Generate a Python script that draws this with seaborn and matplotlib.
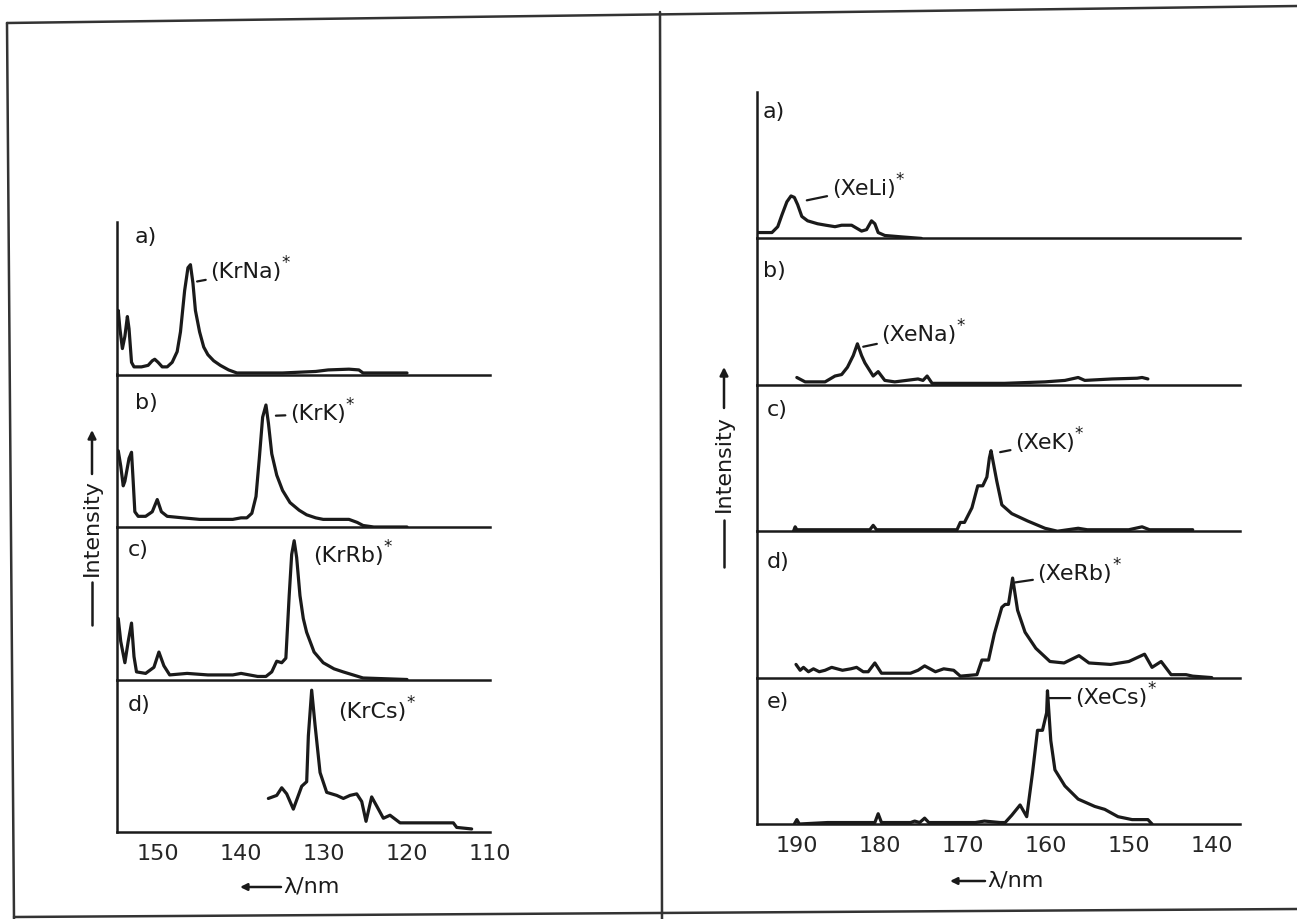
import matplotlib
matplotlib.use("Agg")
import matplotlib.pyplot as plt
import seaborn as sns
from matplotlib.lines import Line2D

sns.set_style("white")
plt.rcParams["font.family"] = ["DejaVu Sans"]

# ---------------- data (wavelength in nm, relative intensity) ----------------
# left panel: Kr excimers
krna_x = [155.0, 154.8, 154.6, 154.3, 154.0, 153.7, 153.5, 153.2, 152.9, 152.0, 151.2, 150.7,
          150.4, 150.0, 149.5, 148.9, 148.3, 147.7, 147.3, 146.8, 146.4, 146.1, 145.8, 145.5,
          145.0, 144.5, 144.0, 143.3, 142.5, 141.5, 140.5, 135.0, 131.0, 129.5, 127.0, 125.8,
          125.3, 122.0, 120.0]
krna_y = [0.36, 0.42, 0.30, 0.17, 0.25, 0.38, 0.30, 0.08, 0.05, 0.05, 0.06, 0.09,
          0.10, 0.08, 0.05, 0.05, 0.08, 0.15, 0.28, 0.55, 0.70, 0.72, 0.60, 0.42,
          0.28, 0.18, 0.13, 0.09, 0.06, 0.03, 0.01, 0.01, 0.02, 0.03, 0.035, 0.03,
          0.01, 0.01, 0.01]

krk_x = [155.0, 154.8, 154.5, 154.2, 154.0, 153.5, 153.2, 153.0, 152.8, 152.4, 151.5, 150.7,
         150.1, 149.6, 148.9, 147.0, 145.0, 143.0, 141.0, 140.0, 139.3, 138.7, 138.2, 137.8,
         137.4, 137.0, 136.7, 136.3, 135.7, 135.0, 134.1, 133.0, 132.1, 131.0, 130.1, 128.5,
         127.0, 126.0, 125.3, 124.0, 120.0]
krk_y = [0.45, 0.50, 0.40, 0.27, 0.30, 0.45, 0.49, 0.30, 0.10, 0.07, 0.07, 0.10,
         0.18, 0.10, 0.07, 0.06, 0.05, 0.05, 0.05, 0.06, 0.06, 0.09, 0.20, 0.45,
         0.72, 0.80, 0.68, 0.48, 0.34, 0.24, 0.16, 0.11, 0.08, 0.06, 0.05, 0.05,
         0.05, 0.03, 0.01, 0.0, 0.0]

krrb_x = [155.0, 154.8, 154.5, 154.0, 153.6, 153.2, 152.9, 152.6, 151.5, 150.5, 149.9, 149.3,
          148.6, 146.5, 144.0, 141.0, 140.0, 138.0, 137.0, 136.3, 135.7, 135.1, 134.6, 134.2,
          133.9, 133.6, 133.3, 132.9, 132.5, 132.1, 131.2, 130.1, 128.8, 127.7, 126.5, 125.3,
          120.0]
krrb_y = [0.37, 0.40, 0.25, 0.11, 0.25, 0.37, 0.15, 0.05, 0.04, 0.08, 0.18, 0.09,
          0.03, 0.04, 0.03, 0.03, 0.04, 0.02, 0.02, 0.05, 0.12, 0.11, 0.14, 0.55,
          0.82, 0.91, 0.80, 0.55, 0.40, 0.31, 0.18, 0.11, 0.07, 0.05, 0.03, 0.01,
          0.0]

krcs_x = [136.71, 135.70, 135.10, 134.50, 133.70, 132.69, 132.09, 131.89, 131.49, 131.08,
          130.48, 129.68, 128.47, 127.67, 126.87, 126.06, 125.46, 124.94, 124.26, 123.65,
          122.85, 122.05, 120.84, 118.03, 114.42, 114.01, 112.21]
krcs_y = [0.22, 0.24, 0.29, 0.25, 0.15, 0.30, 0.33, 0.63, 0.93, 0.70,
          0.39, 0.26, 0.24, 0.22, 0.24, 0.25, 0.20, 0.07, 0.23, 0.17,
          0.09, 0.11, 0.06, 0.06, 0.06, 0.03, 0.02]

# right panel: Xe excimers
xeli_x = [195.0, 193.0, 192.3, 191.8, 191.2, 190.7, 190.3, 189.9, 189.4, 188.7, 187.5, 186.5,
          185.4, 184.6, 183.4, 182.2, 181.6, 181.0, 180.6, 180.2, 179.4, 177.3, 175.0]
xeli_y = [0.04, 0.04, 0.08, 0.16, 0.25, 0.29, 0.28, 0.23, 0.15, 0.12, 0.10, 0.09,
          0.08, 0.09, 0.09, 0.05, 0.06, 0.12, 0.10, 0.04, 0.02, 0.01, 0.0]

xena_x = [190.0, 189.0, 186.6, 185.4, 184.6, 183.9, 183.2, 182.7, 182.2, 181.8, 180.8, 180.2,
          179.4, 178.2, 175.4, 174.8, 174.3, 173.7, 165.0, 160.1, 157.7, 156.1, 155.3, 152.0,
          149.0, 148.4, 147.7]
xena_y = [0.05, 0.02, 0.02, 0.06, 0.07, 0.12, 0.20, 0.28, 0.20, 0.15, 0.06, 0.09,
          0.03, 0.02, 0.04, 0.03, 0.06, 0.01, 0.01, 0.02, 0.03, 0.05, 0.03, 0.04,
          0.045, 0.05, 0.04]

xek_x = [190.4, 190.2, 190.0, 182.0, 181.2, 180.8, 180.4, 175.0, 170.7, 170.3, 169.8, 168.9,
         168.2, 167.6, 167.1, 166.8, 166.6, 166.3, 165.9, 165.3, 164.1, 162.2, 160.1, 158.6,
         156.1, 155.0, 150.0, 148.4, 147.5, 142.3]
xek_y = [0.0, 0.03, 0.01, 0.01, 0.01, 0.04, 0.01, 0.01, 0.01, 0.06, 0.06, 0.16,
         0.31, 0.31, 0.37, 0.50, 0.55, 0.46, 0.34, 0.18, 0.12, 0.07, 0.02, 0.0,
         0.02, 0.01, 0.01, 0.03, 0.01, 0.01]

xerb_x = [190.1, 189.6, 189.2, 188.6, 188.0, 187.3, 186.6, 185.8, 184.5, 183.5, 182.8, 182.0,
          181.4, 180.6, 179.8, 176.3, 175.4, 174.6, 173.3, 172.3, 171.1, 170.3, 168.3, 167.7,
          166.9, 166.2, 165.3, 164.9, 164.5, 164.0, 163.4, 162.5, 161.2, 159.5, 157.8, 156.0,
          154.8, 152.2, 150.0, 148.1, 147.2, 146.1, 144.9, 143.1, 142.3, 140.0]
xerb_y = [0.09, 0.05, 0.07, 0.04, 0.06, 0.04, 0.05, 0.07, 0.05, 0.06, 0.07, 0.04,
          0.04, 0.10, 0.03, 0.03, 0.05, 0.08, 0.04, 0.06, 0.05, 0.01, 0.02, 0.12,
          0.12, 0.30, 0.48, 0.50, 0.50, 0.68, 0.46, 0.31, 0.20, 0.11, 0.10, 0.15,
          0.10, 0.09, 0.11, 0.16, 0.07, 0.11, 0.02, 0.02, 0.01, 0.0]

xecs_x = [190.3, 190.0, 189.7, 186.3, 180.6, 180.2, 179.8, 176.3, 175.8, 175.2, 174.6, 174.1,
          168.5, 167.4, 165.5, 164.9, 164.1, 163.1, 162.3, 161.6, 161.0, 160.4, 159.9, 159.8,
          159.4, 158.9, 157.7, 156.1, 154.1, 152.9, 151.3, 149.6, 147.7, 147.2]
xecs_y = [0.0, 0.03, 0.0, 0.01, 0.01, 0.07, 0.01, 0.01, 0.02, 0.01, 0.04, 0.01,
          0.01, 0.02, 0.01, 0.01, 0.06, 0.13, 0.05, 0.35, 0.64, 0.64, 0.76, 0.91,
          0.57, 0.37, 0.26, 0.17, 0.12, 0.10, 0.05, 0.03, 0.03, 0.0]

left_ticks = [150, 140, 130, 120, 110]
right_ticks = [190, 180, 170, 160, 150, 140]

left_panels = [("a)", "(KrNa)", krna_x, krna_y), ("b)", "(KrK)", krk_x, krk_y),
               ("c)", "(KrRb)", krrb_x, krrb_y), ("d)", "(KrCs)", krcs_x, krcs_y)]
right_panels = [("a)", "(XeLi)", xeli_x, xeli_y), ("b)", "(XeNa)", xena_x, xena_y),
                ("c)", "(XeK)", xek_x, xek_y), ("d)", "(XeRb)", xerb_x, xerb_y),
                ("e)", "(XeCs)", xecs_x, xecs_y)]

# annotation placements: (panel-letter pos), (text pos), (leader start or None)
left_ann = [((152.8, 0.90), (143.7, 0.67), (145.3, 0.61)),
            ((152.8, 0.81), (134.1, 0.74), (135.8, 0.73)),
            ((153.7, 0.85), (131.3, 0.81), None),
            ((153.7, 0.83), (128.3, 0.79), None)]
right_ann = [((194.1, 0.86), (185.8, 0.34), (188.8, 0.26)),
             ((194.1, 0.78), (179.8, 0.34), (182.0, 0.26)),
             ((193.6, 0.83), (163.7, 0.60), (165.5, 0.54)),
             ((193.6, 0.79), (161.0, 0.71), (163.7, 0.65)),
             ((193.6, 0.83), (156.5, 0.86), (159.6, 0.86))]

W, H = 1297, 919
fig = plt.figure(figsize=(W / 100, H / 100), dpi=100)
FS = 16
INK = "#1a1a1a"


def make_panel(panels, ann, ticks, xlim, x0, x1, ytop, ybot):
    n = len(panels)
    h = (ybot - ytop) / n
    axes = []
    for i, ((lab, name, xs, ys), (p_lab, p_txt, p_lead)) in enumerate(zip(panels, ann)):
        top = ytop + i * h
        ax = fig.add_axes([x0 / W, 1 - (top + h) / H, (x1 - x0) / W, h / H])
        ax.patch.set_alpha(0)
        sns.lineplot(x=xs, y=ys, ax=ax, color=INK, linewidth=2.3, sort=False,
                     estimator=None)
        ax.set_xlim(*xlim)
        ax.set_ylim(0, 1)
        for s in ("top", "right"):
            ax.spines[s].set_visible(False)
        for s in ("left", "bottom"):
            ax.spines[s].set_color(INK)
            ax.spines[s].set_linewidth(1.8)
        ax.set_yticks([])
        ax.set_xticks(ticks)
        ax.tick_params(axis="x", direction="in", length=4, width=1.3, color=INK,
                       labelsize=FS, pad=9, labelbottom=(i == n - 1))
        ax.set_xlabel("")
        ax.set_ylabel("")
        ax.text(p_lab[0], p_lab[1], lab, fontsize=FS, ha="left", va="center", color=INK)
        if p_lead is not None:
            t = ax.annotate(name, xy=p_lead, xytext=p_txt, fontsize=FS, ha="left",
                            va="center", color=INK,
                            arrowprops=dict(arrowstyle="-", color=INK, lw=1.6,
                                            shrinkA=1, shrinkB=0))
        else:
            t = ax.text(p_txt[0], p_txt[1], name, fontsize=FS, ha="left", va="center",
                        color=INK)
        ax.annotate("*", xy=(1.0, 0.95), xycoords=t, fontsize=12, ha="left",
                    va="center", color=INK)
        axes.append(ax)
    return axes


left_axes = make_panel(left_panels, left_ann, left_ticks, (154.95, 110.0),
                       117, 490, 222, 832)
right_axes = make_panel(right_panels, right_ann, right_ticks, (194.8, 136.6),
                        757, 1240, 92, 824)


def fx(x):
    return x / W


def fy(y):
    return 1 - y / H


# axis titles with arrows
def yarrow_label(xc, ytip, ytxt0, ytxt1, yend, yc):
    fig.text(fx(xc), fy(yc), "Intensity", rotation=90, ha="center", va="center",
             fontsize=FS, color=INK)
    fig.add_artist(Line2D([fx(xc), fx(xc)], [fy(ytxt1), fy(yend)], color=INK, lw=1.8))
    left_axes[0].annotate("", xy=(fx(xc), fy(ytip)), xytext=(fx(xc), fy(ytxt0)),
                          xycoords="figure fraction", textcoords="figure fraction",
                          arrowprops=dict(arrowstyle="-|>", color=INK, lw=1.8,
                                          mutation_scale=12, shrinkA=0, shrinkB=0),
                          annotation_clip=False)


yarrow_label(92, 430, 474, 582, 625, 528)
yarrow_label(724, 367, 408, 520, 567, 464)


def xarrow_label(xtail, xtip, y, xtext):
    left_axes[0].annotate("", xy=(fx(xtip), fy(y)), xytext=(fx(xtail), fy(y)),
                          xycoords="figure fraction", textcoords="figure fraction",
                          arrowprops=dict(arrowstyle="-|>", color=INK, lw=1.8,
                                          mutation_scale=10, shrinkA=0, shrinkB=0),
                          annotation_clip=False)
    fig.text(fx(xtext), fy(y), "λ/nm", ha="left", va="center", fontsize=FS, color=INK)


xarrow_label(281, 240, 887, 283)
xarrow_label(985, 950, 881, 987)

# page frame of the scanned figure
frame = [((7, 23), (1297, 6)), ((7, 23), (14, 919)), ((660, 12), (662, 919)),
         ((14, 917), (1297, 909))]
for (xa, ya), (xb, yb) in frame:
    fig.add_artist(Line2D([fx(xa), fx(xb)], [fy(ya), fy(yb)], color="#333333", lw=1.8))

fig.savefig("out.png", dpi=100)
